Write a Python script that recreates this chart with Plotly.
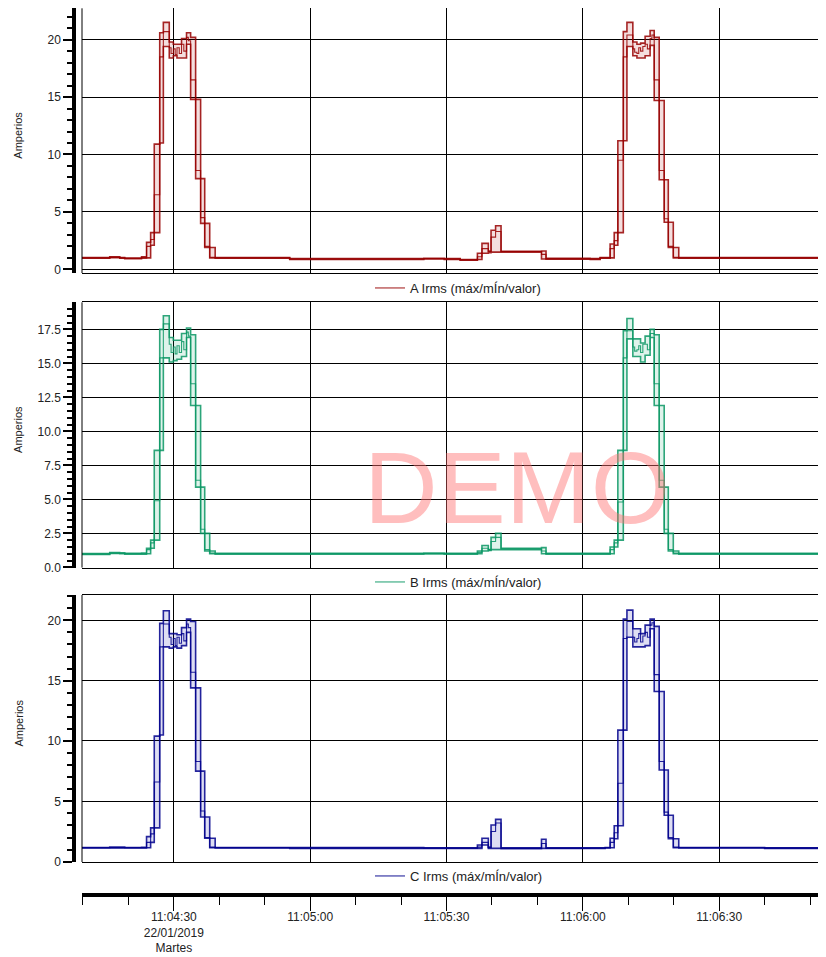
import plotly.graph_objects as go
import pandas as pd

DATE = "2019-01-22 "

# sample instants (shared by the three phases)
TIME = [
    # before first cycle
    "11:04:09.0", "11:04:15.9", "11:04:18.1", "11:04:19.2",
    # first cycle
    "11:04:22.9", "11:04:24.0", "11:04:24.9", "11:04:25.7", "11:04:26.9", "11:04:27.7",
    "11:04:29.0", "11:04:29.4", "11:04:29.9", "11:04:30.3", "11:04:30.7", "11:04:31.2",
    "11:04:31.7", "11:04:32.2", "11:04:32.8", "11:04:33.2", "11:04:33.7", "11:04:34.8",
    "11:04:35.9", "11:04:36.8", "11:04:37.9", "11:04:39.1",
    # idle
    "11:04:55.5", "11:05:25.0", "11:05:29.5", "11:05:33.0",
    # small bump
    "11:05:36.8", "11:05:37.8", "11:05:39.2", "11:05:39.8", "11:05:40.8", "11:05:42.0",
    "11:05:50.9", "11:05:51.9",
    # idle
    "11:06:01.6", "11:06:03.8",
    # second cycle
    "11:06:04.9", "11:06:06.0", "11:06:06.9", "11:06:07.7", "11:06:08.9", "11:06:09.7",
    "11:06:11.0", "11:06:11.4", "11:06:11.9", "11:06:12.3", "11:06:12.7", "11:06:13.2",
    "11:06:13.7", "11:06:14.2", "11:06:14.8", "11:06:15.2", "11:06:15.7", "11:06:16.8",
    "11:06:17.9", "11:06:18.8", "11:06:19.9", "11:06:21.1",
    # idle
    "11:06:40.0", "11:06:55.0",
]

A_MAX = [1.03, 1.08, 1.03, 0.98,
         1.1, 2.35, 3.2, 10.9, 20.6, 21.5, 19.8, 19.8, 19.6, 19.6, 19.6, 19.6, 20.1, 20.1, 20.6, 20.6, 20.2, 14.8, 7.9, 4.0, 1.9, 1.03,
         0.93, 0.96, 0.93, 0.85,
         1.4, 2.26, 1.6, 3.4, 3.8, 1.58, 1.6, 0.95,
         0.93, 1.03,
         1.03, 2.2, 3.2, 11.2, 20.7, 21.5, 19.8, 19.8, 19.6, 19.6, 19.7, 19.7, 20.3, 20.3, 20.8, 20.8, 20.2, 14.7, 7.8, 4.1, 1.9, 1.03,
         1.03, 1.03]
A_MIN = [0.97, 1.02, 0.97, 0.92,
         0.97, 1.0, 2.1, 3.2, 11.0, 19.4, 18.4, 18.4, 18.6, 18.6, 18.4, 18.4, 18.4, 18.4, 19.6, 19.6, 14.8, 7.9, 4.0, 1.9, 1.0, 0.97,
         0.87, 0.9, 0.87, 0.79,
         0.85, 1.4, 1.45, 1.5, 1.5, 1.5, 0.9, 0.89,
         0.87, 0.97,
         0.97, 1.0, 2.1, 3.2, 11.2, 19.4, 18.6, 18.6, 18.4, 18.4, 18.4, 18.4, 18.6, 18.6, 19.5, 19.5, 14.7, 7.8, 4.1, 1.9, 1.0, 0.97,
         0.97, 0.97]
A_VAL = [1.0, 1.05, 1.0, 0.95,
         1.03, 2.0, 2.6, 6.5, 18.5, 20.7, 19.3, 18.8, 19.2, 18.7, 19.3, 18.8, 19.6, 19.0, 20.2, 19.9, 16.5, 8.6, 4.5, 2.0, 1.05, 1.0,
         0.9, 0.93, 0.9, 0.82,
         1.1, 1.8, 1.55, 2.8, 3.3, 1.55, 1.3, 0.92,
         0.9, 1.0,
         1.0, 1.8, 2.5, 9.5, 18.5, 20.4, 19.2, 18.9, 18.8, 19.3, 19.0, 19.4, 19.6, 19.2, 20.1, 20.4, 16.5, 8.6, 4.4, 2.0, 1.05, 1.0,
         1.0, 1.0]

B_MAX = [1.01, 1.08, 1.06, 1.03,
         1.05, 1.4, 2.0, 8.6, 17.5, 18.5, 16.9, 16.9, 16.7, 16.7, 16.7, 16.7, 17.2, 17.2, 17.6, 17.6, 17.1, 11.9, 5.9, 2.5, 1.2, 1.03,
         1.03, 1.05, 1.03, 1.03,
         1.2, 1.6, 1.3, 2.2, 2.5, 1.4, 1.45, 1.03,
         1.03, 1.03,
         1.03, 1.5, 2.0, 8.6, 17.4, 18.3, 16.8, 16.8, 16.8, 16.8, 16.5, 16.5, 17.0, 17.0, 17.5, 17.5, 17.1, 11.9, 5.9, 2.5, 1.2, 1.03,
         1.03, 1.03]
B_MIN = [0.95, 1.02, 1.0, 0.97,
         0.97, 1.0, 1.4, 2.0, 8.6, 15.4, 15.1, 15.1, 15.2, 15.2, 15.3, 15.3, 15.5, 15.5, 16.9, 16.9, 11.9, 5.9, 2.5, 1.2, 1.0, 0.97,
         0.97, 0.99, 0.97, 0.97,
         1.0, 1.2, 1.25, 1.3, 1.3, 1.3, 1.0, 0.97,
         0.97, 0.97,
         0.97, 1.0, 1.5, 2.0, 8.6, 16.8, 15.5, 15.5, 15.5, 15.5, 15.1, 15.1, 15.6, 15.6, 16.9, 16.9, 11.9, 5.9, 2.5, 1.2, 1.0, 0.97,
         0.97, 0.97]
B_VAL = [0.98, 1.05, 1.03, 1.0,
         1.0, 1.3, 1.8, 4.9, 15.4, 17.9, 16.4, 15.8, 16.2, 15.7, 16.3, 15.8, 16.6, 16.0, 17.3, 17.0, 13.5, 6.4, 2.8, 1.3, 1.05, 1.0,
         1.0, 1.02, 1.0, 1.0,
         1.1, 1.4, 1.3, 1.9, 2.2, 1.35, 1.2, 1.0,
         1.0, 1.0,
         1.0, 1.3, 1.8, 4.8, 15.4, 17.4, 16.2, 15.9, 16.0, 16.3, 15.8, 16.4, 16.4, 16.0, 17.2, 17.2, 13.5, 6.4, 2.8, 1.3, 1.05, 1.0,
         1.0, 1.0]

C_MAX = [1.17, 1.2, 1.2, 1.17,
         1.18, 2.07, 2.8, 10.4, 19.75, 20.8, 18.9, 18.9, 18.9, 18.9, 18.8, 18.8, 19.4, 19.4, 20.1, 20.1, 19.9, 14.4, 7.5, 3.7, 1.94, 1.17,
         1.17, 1.15, 1.15, 1.15,
         1.38, 1.94, 1.2, 3.04, 3.5, 1.14, 1.86, 1.14,
         1.15, 1.15,
         1.17, 1.94, 2.98, 10.9, 20.1, 20.85, 19.3, 19.3, 19.3, 19.3, 18.9, 18.9, 19.6, 19.6, 20.1, 20.1, 19.5, 14.1, 7.6, 3.85, 1.9, 1.17,
         1.15, 1.15]
C_MIN = [1.13, 1.13, 1.13, 1.13,
         1.13, 1.15, 1.6, 2.8, 10.5, 17.8, 17.7, 17.7, 17.8, 17.8, 17.7, 17.7, 17.9, 17.9, 19.0, 19.0, 14.4, 7.5, 3.7, 1.94, 1.15, 1.13,
         1.1, 1.09, 1.09, 1.09,
         1.1, 1.38, 1.1, 1.1, 1.1, 1.08, 1.1, 1.09,
         1.09, 1.09,
         1.13, 1.15, 1.9, 2.98, 10.9, 18.6, 17.8, 17.8, 17.8, 17.8, 17.8, 17.8, 17.9, 17.9, 19.3, 19.3, 14.1, 7.6, 3.85, 1.9, 1.15, 1.13,
         1.1, 1.1]
C_VAL = [1.15, 1.16, 1.16, 1.15,
         1.15, 1.6, 2.3, 6.6, 17.8, 19.7, 18.6, 18.0, 18.5, 17.9, 18.6, 18.1, 18.9, 18.3, 19.7, 19.4, 15.7, 8.3, 4.2, 2.0, 1.2, 1.15,
         1.13, 1.12, 1.12, 1.12,
         1.2, 1.6, 1.15, 2.5, 3.2, 1.1, 1.5, 1.12,
         1.12, 1.12,
         1.15, 1.6, 2.4, 6.5, 18.5, 19.9, 18.6, 18.2, 18.5, 18.9, 18.2, 18.7, 19.0, 18.6, 19.6, 19.8, 15.5, 8.3, 4.1, 2.0, 1.2, 1.15,
         1.12, 1.12]

SERIES_NAMES = ["A Irms (máx/mÍn/valor)", "B Irms (máx/mÍn/valor)", "C Irms (máx/mÍn/valor)"]
X_TICKVALS = ["11:04:30", "11:05:00", "11:05:30", "11:06:00", "11:06:30"]
X_TICKTEXT = ["11:04:30<br>22/01/2019<br>Martes", "11:05:00", "11:05:30", "11:06:00", "11:06:30"]
X_RANGE = ["11:04:09.8", "11:06:53.5"]

times = pd.to_datetime([DATE + t for t in TIME])

# the page body has an 8px margin: the figure is drawn at (8, 8) in the window
OFF = 8
W, H = 826 - OFF, 957 - OFF
FONT = "Liberation Sans, Arial, sans-serif"


def fx(p):
    return (p - OFF) / W


def fy(p):
    return 1 - (p - OFF) / H


X0 = fx(82)
panels = [
    dict(mx=A_MAX, mn=A_MIN, val=A_VAL, line="rgba(150,0,0,0.85)", fill="rgba(170,0,0,0.13)",
         top=8.3, bot=273.0, yr=[-0.32, 22.73], dtick=5, minor=1, fmt="d", leg=288),
    dict(mx=B_MAX, mn=B_MIN, val=B_VAL, line="rgba(10,150,100,0.85)", fill="rgba(10,160,100,0.13)",
         top=302.3, bot=567.6, yr=[-0.02, 19.49], dtick=2.5, minor=0.5, fmt=".1f", leg=582),
    dict(mx=C_MAX, mn=C_MIN, val=C_VAL, line="rgba(0,0,140,0.85)", fill="rgba(0,0,160,0.13)",
         top=595.0, bot=862.0, yr=[-0.03, 22.1], dtick=5, minor=1, fmt="d", leg=876),
]

fig = go.Figure()
layout = dict(
    width=W, height=H, autosize=False,
    margin=dict(l=0, r=0, t=0, b=0, autoexpand=False),
    plot_bgcolor="white", paper_bgcolor="white",
    font=dict(family=FONT, size=11, color="#111"),
    shapes=[], annotations=[],
)

xr = [DATE + X_RANGE[0], DATE + X_RANGE[1]]

for i, p in enumerate(panels):
    s = "" if i == 0 else str(i + 1)
    xa, ya = "x" + s, "y" + s
    leg = "legend" + s
    fig.add_trace(go.Scatter(x=times, y=p["mn"], xaxis=xa, yaxis=ya, mode="lines",
                             line=dict(color=p["line"], width=1.6, shape="hv"),
                             showlegend=False, hoverinfo="skip"))
    fig.add_trace(go.Scatter(x=times, y=p["mx"], xaxis=xa, yaxis=ya, mode="lines",
                             line=dict(color=p["line"], width=1.6, shape="hv"),
                             fill="tonexty", fillcolor=p["fill"],
                             showlegend=False, hoverinfo="skip"))
    fig.add_trace(go.Scatter(x=times, y=p["val"], xaxis=xa, yaxis=ya, mode="lines",
                             line=dict(color=p["line"], width=1.1, shape="hv"),
                             name=SERIES_NAMES[i], legend=leg, showlegend=True))
    dom = [fy(p["bot"]), fy(p["top"])]
    layout["xaxis" + s] = dict(
        domain=[X0, 1.0], anchor=ya, range=xr, type="date", automargin=False,
        showline=True, mirror=True, linecolor="black", linewidth=1,
        ticks="", showticklabels=False,
        showgrid=True, gridcolor="black", gridwidth=1,
        tickmode="linear", tick0=DATE + "11:04:30", dtick=30000, zeroline=False,
    )
    layout["yaxis" + s] = dict(
        domain=dom, anchor="free", position=fx(74), side="left", range=p["yr"], automargin=False,
        showline=True, linecolor="black", linewidth=3.5,
        ticks="outside", ticklen=9, tickwidth=1.6, tickcolor="black",
        tickmode="linear", tick0=0, dtick=p["dtick"], tickformat=p["fmt"],
        minor=dict(tickmode="linear", tick0=0, dtick=p["minor"], ticks="outside", ticklen=5,
                   tickwidth=1.6, tickcolor="black", showgrid=False),
        showgrid=True, gridcolor="black", gridwidth=1, zeroline=False,
        tickfont=dict(size=12, color="#222"),
    )
    layout["shapes"].append(dict(type="line", xref="paper", yref="paper",
                                 x0=X0, x1=X0, y0=dom[0], y1=dom[1],
                                 line=dict(color="black", width=1)))
    layout["annotations"].append(dict(text="Amperios", xref="paper", yref="paper",
                                      x=fx(18), y=fy((p["top"] + p["bot"]) / 2 - 5),
                                      xanchor="center", yanchor="middle",
                                      textangle=-90, showarrow=False,
                                      font=dict(size=11, color="#222")))
    layout[leg] = dict(orientation="h", x=fx(370), y=fy(p["leg"]), xanchor="left", yanchor="middle",
                       bgcolor="rgba(0,0,0,0)", font=dict(size=13, color="#222"), itemwidth=30)

# bottom time axis
fig.add_trace(go.Scatter(x=[DATE + "11:05:00"], y=[0.5], xaxis="x4", yaxis="y4", mode="markers",
                         marker=dict(opacity=0), showlegend=False, hoverinfo="skip"))
layout["xaxis4"] = dict(
    domain=[X0, 1.0], anchor="y4", range=xr, type="date", automargin=False,
    showline=True, linecolor="black", linewidth=4,
    ticks="outside", ticklen=14, tickwidth=1.2, tickcolor="black",
    tickmode="array", tickvals=[DATE + t for t in X_TICKVALS], ticktext=X_TICKTEXT,
    ticklabelstandoff=-4,
    minor=dict(tickmode="linear", tick0=DATE + "11:04:10", dtick=10000, ticks="outside",
               ticklen=8, tickwidth=1.2, tickcolor="black", showgrid=False),
    showgrid=False, zeroline=False, tickfont=dict(size=12, color="#222"),
)
layout["yaxis4"] = dict(domain=[fy(892.5), fy(892)], visible=False, range=[0, 1], automargin=False)

layout["annotations"].append(dict(text="DEMO", xref="paper", yref="paper",
                                  x=fx(517), y=fy(488), xanchor="center", yanchor="middle",
                                  showarrow=False,
                                  font=dict(size=102, color="rgba(255,110,110,0.45)", family=FONT)))

fig.update_layout(**layout)
fig.write_html("out.html")
